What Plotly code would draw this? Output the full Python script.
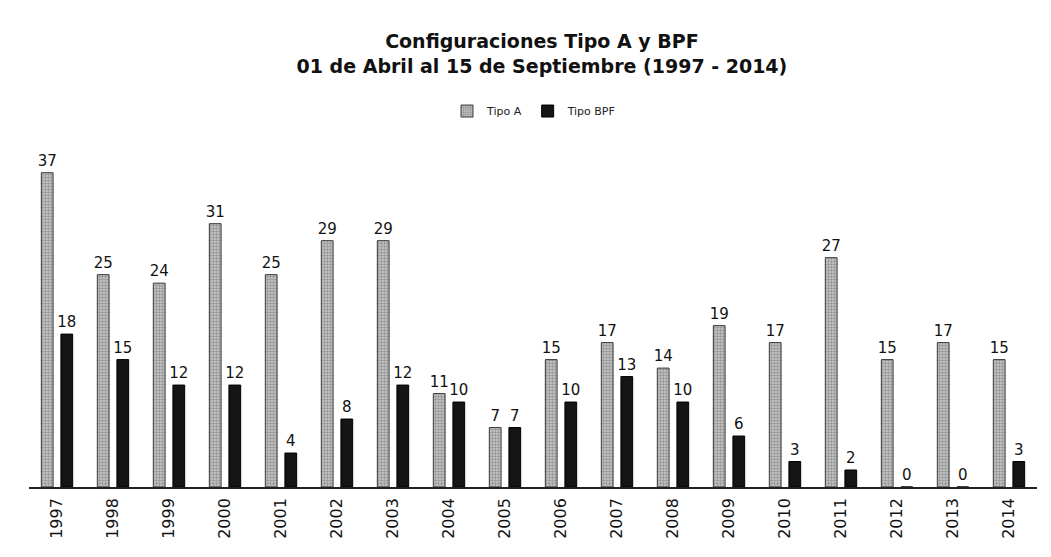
import plotly.graph_objects as go

years = ["1997", "1998", "1999", "2000", "2001", "2002", "2003", "2004", "2005",
         "2006", "2007", "2008", "2009", "2010", "2011", "2012", "2013", "2014"]
tipo_a = [37, 25, 24, 31, 25, 29, 29, 11, 7, 15, 17, 14, 19, 17, 27, 15, 17, 15]
tipo_bpf = [18, 15, 12, 12, 4, 8, 12, 10, 7, 10, 13, 10, 6, 3, 2, 0, 0, 3]

lbl_font = dict(family="DejaVu Sans", size=15, color="#111")

fig = go.Figure()
fig.add_trace(go.Bar(
    x=years, y=tipo_a, name="Tipo A",
    marker=dict(color="#c9c9c9", line=dict(color="#3a3a3a", width=1),
                pattern=dict(shape=".", fgcolor="#5f5f5f", size=3, solidity=0.5)),
    text=tipo_a, textposition="outside", cliponaxis=False, textfont=lbl_font,
))
fig.add_trace(go.Bar(
    x=years, y=tipo_bpf, name="Tipo BPF",
    marker=dict(color="#151515", line=dict(color="#000", width=1)),
    text=tipo_bpf, textposition="outside", cliponaxis=False, textfont=lbl_font,
))

fig.update_layout(
    width=1051, height=557,
    paper_bgcolor="white", plot_bgcolor="white",
    barmode="group", bargap=0.3, bargroupgap=0.4,
    uniformtext=dict(minsize=15, mode="show"),
    margin=dict(l=21, r=22, t=132, b=78),
    title=dict(
        text="<b>Configuraciones Tipo A y BPF</b><br><b>01 de Abril al 15 de Septiembre (1997 - 2014)</b>",
        x=0.508, xanchor="center", y=0.928, yanchor="top",
        font=dict(family="DejaVu Sans", size=19, color="#111"),
    ),
    legend=dict(orientation="h", x=0.501, xanchor="center", y=0.815, yanchor="middle",
                yref="container", itemwidth=30,
                font=dict(family="DejaVu Sans", size=11, color="#222")),
    showlegend=True,
)
fig.update_xaxes(
    tickangle=-90, tickfont=dict(family="DejaVu Sans", size=16, color="#111"),
    showline=True, linecolor="#222", linewidth=1.5, ticks="outside", ticklen=3,
    tickcolor="white", showgrid=False,
)
fig.update_yaxes(range=[0, 40.85], visible=False, showgrid=False)

fig.write_html("out.html")
